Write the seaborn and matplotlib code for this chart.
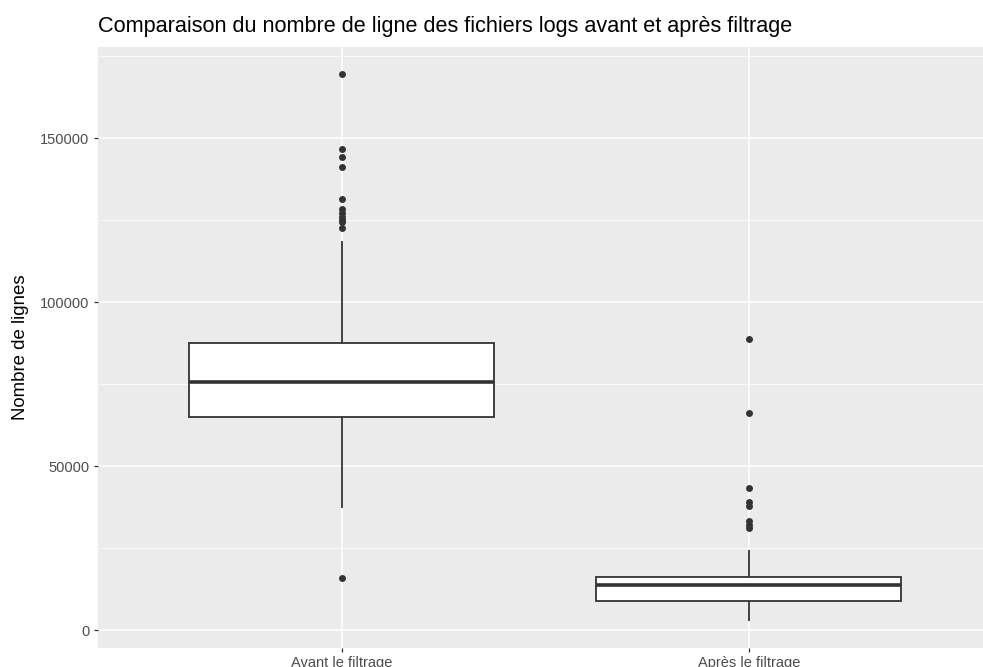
"""
Boxplot: nombre de lignes des fichiers logs avant / après filtrage (style ggplot).
"""

import matplotlib
matplotlib.use("Agg")
import matplotlib.pyplot as plt
import numpy as np
import pandas as pd
import seaborn as sns

# ── Données ──────────────────────────────────────────────────────────────
CATEGORIES = ["Avant le filtrage", "Après le filtrage"]

avant = [
    15850, 37200,
    44000, 49500, 53000, 56000, 58200, 60000, 61500, 62600, 63500, 64300,
    64940,
    66000, 67200, 68300, 69400, 70300, 71200, 72100, 73000, 73800, 74600, 75200,
    75600,
    76300, 77200, 78100, 79000, 80000, 81000, 82100, 83200, 84400, 85600, 86700,
    87500,
    118600,
    122600, 124600, 125200, 126100, 127200, 128400, 131400, 141200, 144200,
    146650, 169500,
]

apres = [
    2740,
    4200, 5300, 6100, 6800, 7300, 7700, 8000, 8300, 8550,
    8750,
    9300, 9900, 10500, 11000, 11600, 12100, 12600, 13000, 13350,
    13630,
    13900, 14150, 14400, 14650, 14900, 15150, 15400, 15650, 15850,
    16060,
    19500, 24400,
    31000, 32100, 33200, 37800, 38900, 43380, 66070, 88900,
]

Y_TICKS = [0, 50000, 100000, 150000]
Y_MINOR = [25000, 75000, 125000, 175000]

TITLE = "Comparaison du nombre de ligne des fichiers logs avant et après filtrage"
Y_LABEL = "Nombre de lignes"

df = pd.DataFrame({
    "etape": [CATEGORIES[0]] * len(avant) + [CATEGORIES[1]] * len(apres),
    "lignes": avant + apres,
})

sns.set_theme(style="white")
plt.rcParams["font.family"] = ["Liberation Sans", "DejaVu Sans"]

fig = plt.figure(figsize=(9.83, 6.67), dpi=100)
ax = fig.add_axes([0.0992, 0.0279, 0.911, 0.9017])
ax.set_facecolor("#EBEBEB")

sns.boxplot(
    data=df, x="etape", y="lignes", order=CATEGORIES,
    color="white", saturation=1, width=0.75,
    linecolor="#333333", linewidth=1.3, showcaps=False,
    medianprops=dict(linewidth=2.6, color="#333333"),
    flierprops=dict(marker="o", markersize=5, markerfacecolor="#333333",
                    markeredgecolor="#333333", markeredgewidth=0),
    ax=ax, zorder=3,
)

ax.set_xlim(-0.6, 1.6)
ax.set_ylim(-5600, 177840)
ax.set_yticks(Y_TICKS)
ax.set_yticklabels([str(v) for v in Y_TICKS])
ax.set_yticks(Y_MINOR, minor=True)

ax.grid(True, which="major", color="white", linewidth=1.1, zorder=0)
ax.grid(True, which="minor", axis="y", color="white", linewidth=0.55, zorder=0)
ax.set_axisbelow(True)
for s in ax.spines.values():
    s.set_visible(False)

ax.tick_params(axis="both", which="major", length=3.2, width=0.9,
               color="#333333", labelcolor="#4D4D4D", labelsize=10.5, pad=2.5,
               bottom=True, left=True)
ax.tick_params(axis="both", which="minor", length=0)

ax.set_xlabel("")
ax.set_ylabel(Y_LABEL, fontsize=13.4, color="black")
ax.yaxis.set_label_coords(-0.0765, 0.5)
fig.text(0.0992, 0.952, TITLE, fontsize=15.6, color="black", ha="left", va="baseline")

fig.savefig("out.png", dpi=100)
